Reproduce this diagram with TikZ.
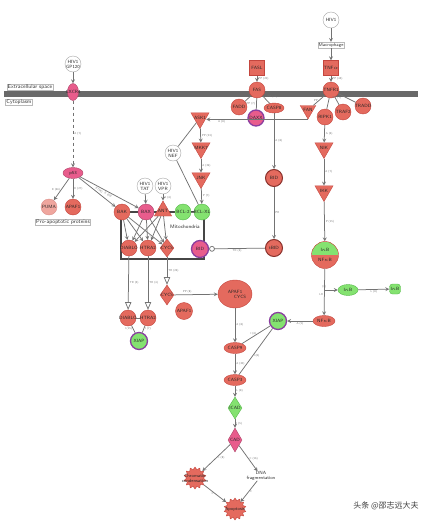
\documentclass[tikz,border=0pt]{standalone}
\usepackage{fontspec}
\usepackage{tikz}
\usetikzlibrary{shapes.geometric, arrows, calc}
\newfontfamily\cjk{Noto Sans CJK SC}
\definecolor{upred}{RGB}{228,106,94}
\definecolor{upedge}{RGB}{196,70,62}
\definecolor{pinkup}{RGB}{232,92,140}
\definecolor{downgreen}{RGB}{132,226,112}
\definecolor{downedge}{RGB}{88,186,76}
\definecolor{ringpurple}{RGB}{138,62,160}
\definecolor{linegray}{RGB}{115,115,115}
\definecolor{membrane}{RGB}{105,105,105}
\tikzset{
    lbl/.style={font=\fontsize{4.6}{5}\selectfont\sffamily, text=black!85, align=center, inner sep=0pt},
    elbl/.style={font=\fontsize{2.8}{3}\selectfont\sffamily, text=black!55, inner sep=1pt},
    tag/.style={draw=gray!55, fill=white, inner sep=0.8pt, font=\fontsize{5.4}{6}\selectfont\sffamily, text=black!80},
    gene/.style={circle, draw=upedge, fill=upred, minimum size=16pt, inner sep=0pt, label={[lbl]center:#1}},
    pinkgene/.style={gene=#1, draw=pinkup!75!black, fill=pinkup},
    greengene/.style={gene=#1, draw=downedge, fill=downgreen},
    viral/.style={gene=#1, draw=gray!70, fill=white},
    ringed/.style={line width=1.3pt, draw=ringpurple},
    kinase/.style={regular polygon, regular polygon sides=3, shape border rotate=180, draw=upedge, fill=upred,
        minimum size=21pt, inner sep=0pt, label={[lbl]center:#1}},
    pept/.style={diamond, draw=upedge, fill=upred, minimum width=14pt, minimum height=20pt, inner sep=0pt,
        label={[lbl]center:#1}},
    enzyme/.style={ellipse, draw=upedge, fill=upred, minimum width=22pt, minimum height=11pt, inner sep=0pt,
        label={[lbl]center:#1}},
    ligand/.style={rectangle, draw=upedge, fill=upred, minimum size=15pt, inner sep=0pt, label={[lbl]center:#1}},
    burst/.style={star, star points=14, star point ratio=1.3, draw=upedge, fill=upred, minimum size=22pt, inner sep=0pt},
    edge/.style={draw=linegray, line width=0.75pt},
    mitobox/.style={draw=gray!55!black, line width=1.5pt}
}
\begin{document}
\begin{tikzpicture}[x=1pt, y=-1pt, >=stealth]
\useasboundingbox (0,0) rectangle (422,522);
\fill[membrane] (4,91) rectangle (418,97);
\draw[mitobox] (121,212) rectangle (204,259);
\node[tag] (extra) at (30,87) {Extracellular space};
\node[tag] (cyto) at (19,102) {Cytoplasm};
\node[tag] (proapo) at (63,222) {Pro-apoptotic proteins};
\node[lbl, font=\fontsize{5}{5.5}\selectfont\sffamily] (mitolbl) at (185,227) {Mitochondria};

% receptors at the membrane
\node[viral={HIV1\\GP120}] (gp120) at (73,64) {};
\node[ellipse, draw=pinkup!75!black, fill=pinkup, minimum width=11pt, minimum height=17pt, inner sep=0pt, label={[lbl]center:CXCR4}] (cxcr4) at (73,92) {};
\node[ligand=FASL] (fasl) at (257,68) {};
\node[gene=FAS] (fas) at (257,90) {};
\node[viral=HIV1] (hiv1) at (331,20) {};
\node[tag, font=\fontsize{4.6}{5}\selectfont\sffamily] (macro) at (331,45) {Macrophage};
\node[ligand=TNF$\alpha$] (tnfa) at (331,68) {};
\node[gene=TNFR1] (tnfr1) at (331,90) {};

% death receptor branch
\node[gene=FADD] (fadd) at (239,107) {};
\node[pinkgene=DAXX, ringed] (daxx) at (256,118) {};
\node[enzyme=CASP8, minimum width=20pt, minimum height=10pt] (casp8) at (274,108) {};
\node[kinase=FAN, minimum size=18pt] (fan) at (308,110) {};
\node[gene=RIPK1] (ripk1) at (325,117) {};
\node[gene=TRAF2] (traf2) at (343,112) {};
\node[gene=TRADD] (tradd) at (363,106) {};
\node[kinase=ASK1] (ask1) at (200,118) {};
\node[kinase=MKK7] (mkk7) at (201,148) {};
\node[kinase=JNK] (jnk) at (201,178) {};
\node[viral={HIV1\\NEF}] (nef) at (173,153) {};
\node[gene=BID, draw=upedge!70!black, line width=1pt, minimum size=17pt] (bid) at (274,178) {};
\node[gene=tBID, draw=upedge!70!black, line width=1pt, minimum size=17pt] (tbid) at (274,248) {};
\node[kinase=NIK] (nik) at (324,148) {};
\node[kinase=IKK] (ikk) at (324,191) {};
\node[circle, draw=upedge, fill=upred, minimum size=27pt, inner sep=0pt, lbl,
    path picture={\fill[downgreen] (path picture bounding box.north west) rectangle (path picture bounding box.east);}]
    (ikbnf) at (325,255) {I$\kappa$B\\[5pt]NF$\kappa$B};
\node[ellipse, draw=downedge, fill=downgreen, minimum width=20pt, minimum height=11pt, inner sep=0pt, label={[lbl]center:I$\kappa$B}] (ikb) at (348,290) {};
\node[rectangle, rounded corners=3pt, draw=downedge, fill=downgreen, minimum width=11pt, minimum height=10pt, inner sep=0pt, label={[lbl]center:I$\kappa$B}] (ikbp) at (395,289) {};
\node[enzyme=NF$\kappa$B] (nfkb) at (324,321) {};
\node[greengene=XIAP, ringed, minimum size=17pt] (xiapr) at (278,321) {};

% p53 and mitochondria
\node[ellipse, draw=pinkup!75!black, fill=pinkup, minimum width=20pt, minimum height=11pt, inner sep=0pt, label={[lbl]center:p53}] (p53) at (73,173) {};
\node[gene=PUMA, fill=upred!60, draw=upedge!60] (puma) at (49,207) {};
\node[gene=APAF1] (apafa) at (73,207) {};
\node[viral={HIV1\\TAT}] (tat) at (145,186) {};
\node[viral={HIV1\\VPR}] (vpr) at (163,186) {};
\node[gene=BAK] (bak) at (122,212) {};
\node[pinkgene=BAX] (bax) at (146,212) {};
\node[regular polygon, regular polygon sides=3, draw=upedge, fill=upred, minimum size=20pt, inner sep=0pt, label={[lbl]center:ANT}] (ant) at (163,211) {};
\node[greengene=BCL-2] (bcl2) at (183,212) {};
\node[greengene=BCL-XL] (bclxl) at (202,212) {};
\node[gene=DIABLO] (diablom) at (129,248) {};
\node[gene=HTRA2] (htra2m) at (148,248) {};
\node[pept=CYCS, minimum height=18pt] (cycsm) at (167,248) {};
\node[pinkgene=BID, ringed, minimum size=17pt] (bidm) at (200,249) {};

% executioner branch
\node[gene=DIABLO] (diabloo) at (128,318) {};
\node[gene=HTRA2] (htra2o) at (148,318) {};
\node[greengene=XIAP, ringed, minimum size=17pt] (xiapl) at (139,341) {};
\node[pept=CYCS] (cycso) at (167,295) {};
\node[gene=APAF1, minimum size=17pt] (apafb) at (184,311) {};
\node[ellipse, draw=upedge, fill=upred, minimum width=34pt, minimum height=28pt, inner sep=0pt, lbl] (apafcycs) at (235,294) {APAF1\hspace{6pt}\\\hspace{10pt}CYCS};
\node[enzyme=CASP9] (casp9) at (235,348) {};
\node[enzyme=CASP3] (casp3) at (235,380) {};
\node[pept=ICAD, draw=downedge, fill=downgreen, minimum height=22pt] (icad) at (235,408) {};
\node[pept=CAD, draw=pinkup!75!black, fill=pinkup, minimum height=24pt] (cad) at (235,440) {};
\node[burst, label={[lbl]center:Chromatin\\condensation}] (chrom) at (195,478) {};
\node[lbl] (dna) at (261,476) {DNA\\fragmentation};
\node[burst, label={[lbl]center:Apoptosis}] (apop) at (235,509) {};
\node[font=\cjk\fontsize{8}{9}\selectfont, text=black!75] (mark) at (386,506) {头条 @邵志远大夫};

% connectors
\draw[edge,->] (gp120) -- (cxcr4);
\draw[edge,->,dashed] (cxcr4) -- node[elbl,right] {A (7)} (p53);
\draw[edge,->] (p53) -- node[elbl,left] {E (66)} (puma);
\draw[edge,->] (p53) -- node[elbl,right] {E (27)} (apafa);
\draw[edge,->] (p53) -- node[elbl,above,sloped] {E (38)} (bak);
\draw[edge,->] (p53) -- node[elbl,below,sloped] {E (69)} (bax);
\draw[edge,->] (tat) -- (bax);
\draw[edge,->] (vpr) -- node[elbl,right] {A (6)} (ant);
\draw[edge] (bcl2) -- (bclxl);
\foreach \s in {bak,bax,ant}
    \foreach \t in {diablom,htra2m,cycsm}
        \draw[edge,->] (\s) -- (\t);
\draw[edge] (nef) -- (ask1);
\draw[edge] (nef) -- (bclxl);
\draw[edge,->] (ask1) -- node[elbl,right] {PP (23)} (mkk7);
\draw[edge,->] (mkk7) -- node[elbl,right] {A (29)} (jnk);
\draw[edge,->] (jnk) -- node[elbl,right] {P (7)} (bclxl);
\draw[edge,->] (fasl) -- node[elbl,right] {PP (20)} (fas);
\draw[edge] (fas) -- (fadd);
\draw[edge] (fas) -- node[elbl,left] {PP (7)} (daxx);
\draw[edge] (fas) -- node[elbl,above right] {PP (20)} (casp8);
\draw[edge,->] (fan.south) -- node[elbl,below,pos=0.85] {A (8)} (ask1.east |- fan.south);
\draw[edge,->] (casp8) -- node[elbl,right] {A (8)} (bid);
\draw[edge,->] (bid) -- node[elbl,right] {PR} (tbid);
\draw[edge,-o] (tbid) -- node[elbl,below] {TR (6)} (bidm);
\draw[edge,->] (hiv1) -- (macro);
\draw[edge,->] (macro) -- (tnfa);
\draw[edge,->] (tnfa) -- node[elbl,right] {PP (45)} (tnfr1);
\draw[edge] (tnfr1) -- node[elbl,left] {PP} (fan);
\draw[edge] (tnfr1) -- (ripk1);
\draw[edge] (tnfr1) -- node[elbl,above] {PP (7)} (traf2);
\draw[edge] (tnfr1) -- (tradd);
\draw[edge,->] (ripk1) -- node[elbl,right] {A (6)} (nik);
\draw[edge,->] (nik) -- node[elbl,right] {A (7)} (ikk);
\draw[edge,->] (ikk) -- node[elbl,right] {P (15)} (ikbnf);
\draw[edge,->] (ikbnf) -- node[elbl,left,pos=0.55] {LR} (nfkb);
\draw[edge,->] (ikbnf.south |- ikb) -- node[elbl,above left,pos=0.2] {(8)} (ikb);
\draw[edge,->] (ikb) -- node[elbl,below] {L (8)} (ikbp);
\draw[edge,->] (nfkb) -- node[elbl,below] {A (1)} (xiapr);
\draw[edge,-open triangle 45] (diablom) -- node[elbl,right] {TR (5)} (diabloo);
\draw[edge,-open triangle 45] (htra2m) -- node[elbl,right] {TR (4)} (htra2o);
\draw[edge,-open triangle 45] (cycsm) -- node[elbl,right] {TR (26)} (cycso);
\draw[edge] (diabloo) -- (htra2o);
\draw[edge] (diabloo) -- node[elbl,left] {I (15)} (xiapl);
\draw[edge] (htra2o) -- node[elbl,right] {I (7)} (xiapl);
\draw[edge,->] (cycso) -- node[elbl,above,pos=0.3] {PP (8)} (apafcycs);
\draw[edge,->] (apafcycs) -- node[elbl,right] {A (8)} (casp9);
\draw[edge,->] (casp9) -- node[elbl,right] {A (20)} (casp3);
\draw[edge,->] (casp3) -- node[elbl,right] {L (8)} (icad);
\draw[edge,->] (icad) -- node[elbl,right] {I (5)} (cad);
\draw[edge] (xiapr) -- node[elbl,above,pos=0.6] {I (6)} (casp9);
\draw[edge] (xiapr) -- node[elbl,right,pos=0.6] {I (8)} (casp3);
\draw[edge,->] (cad) -- node[elbl,right] {C (8)} (chrom);
\draw[edge,->] (cad) -- node[elbl,right] {C (16)} (dna);
\draw[edge,->] (chrom) -- node[elbl,left] {C} (apop);
\draw[edge,->] (dna) -- node[elbl,right] {C} (apop);
\end{tikzpicture}
\end{document}
